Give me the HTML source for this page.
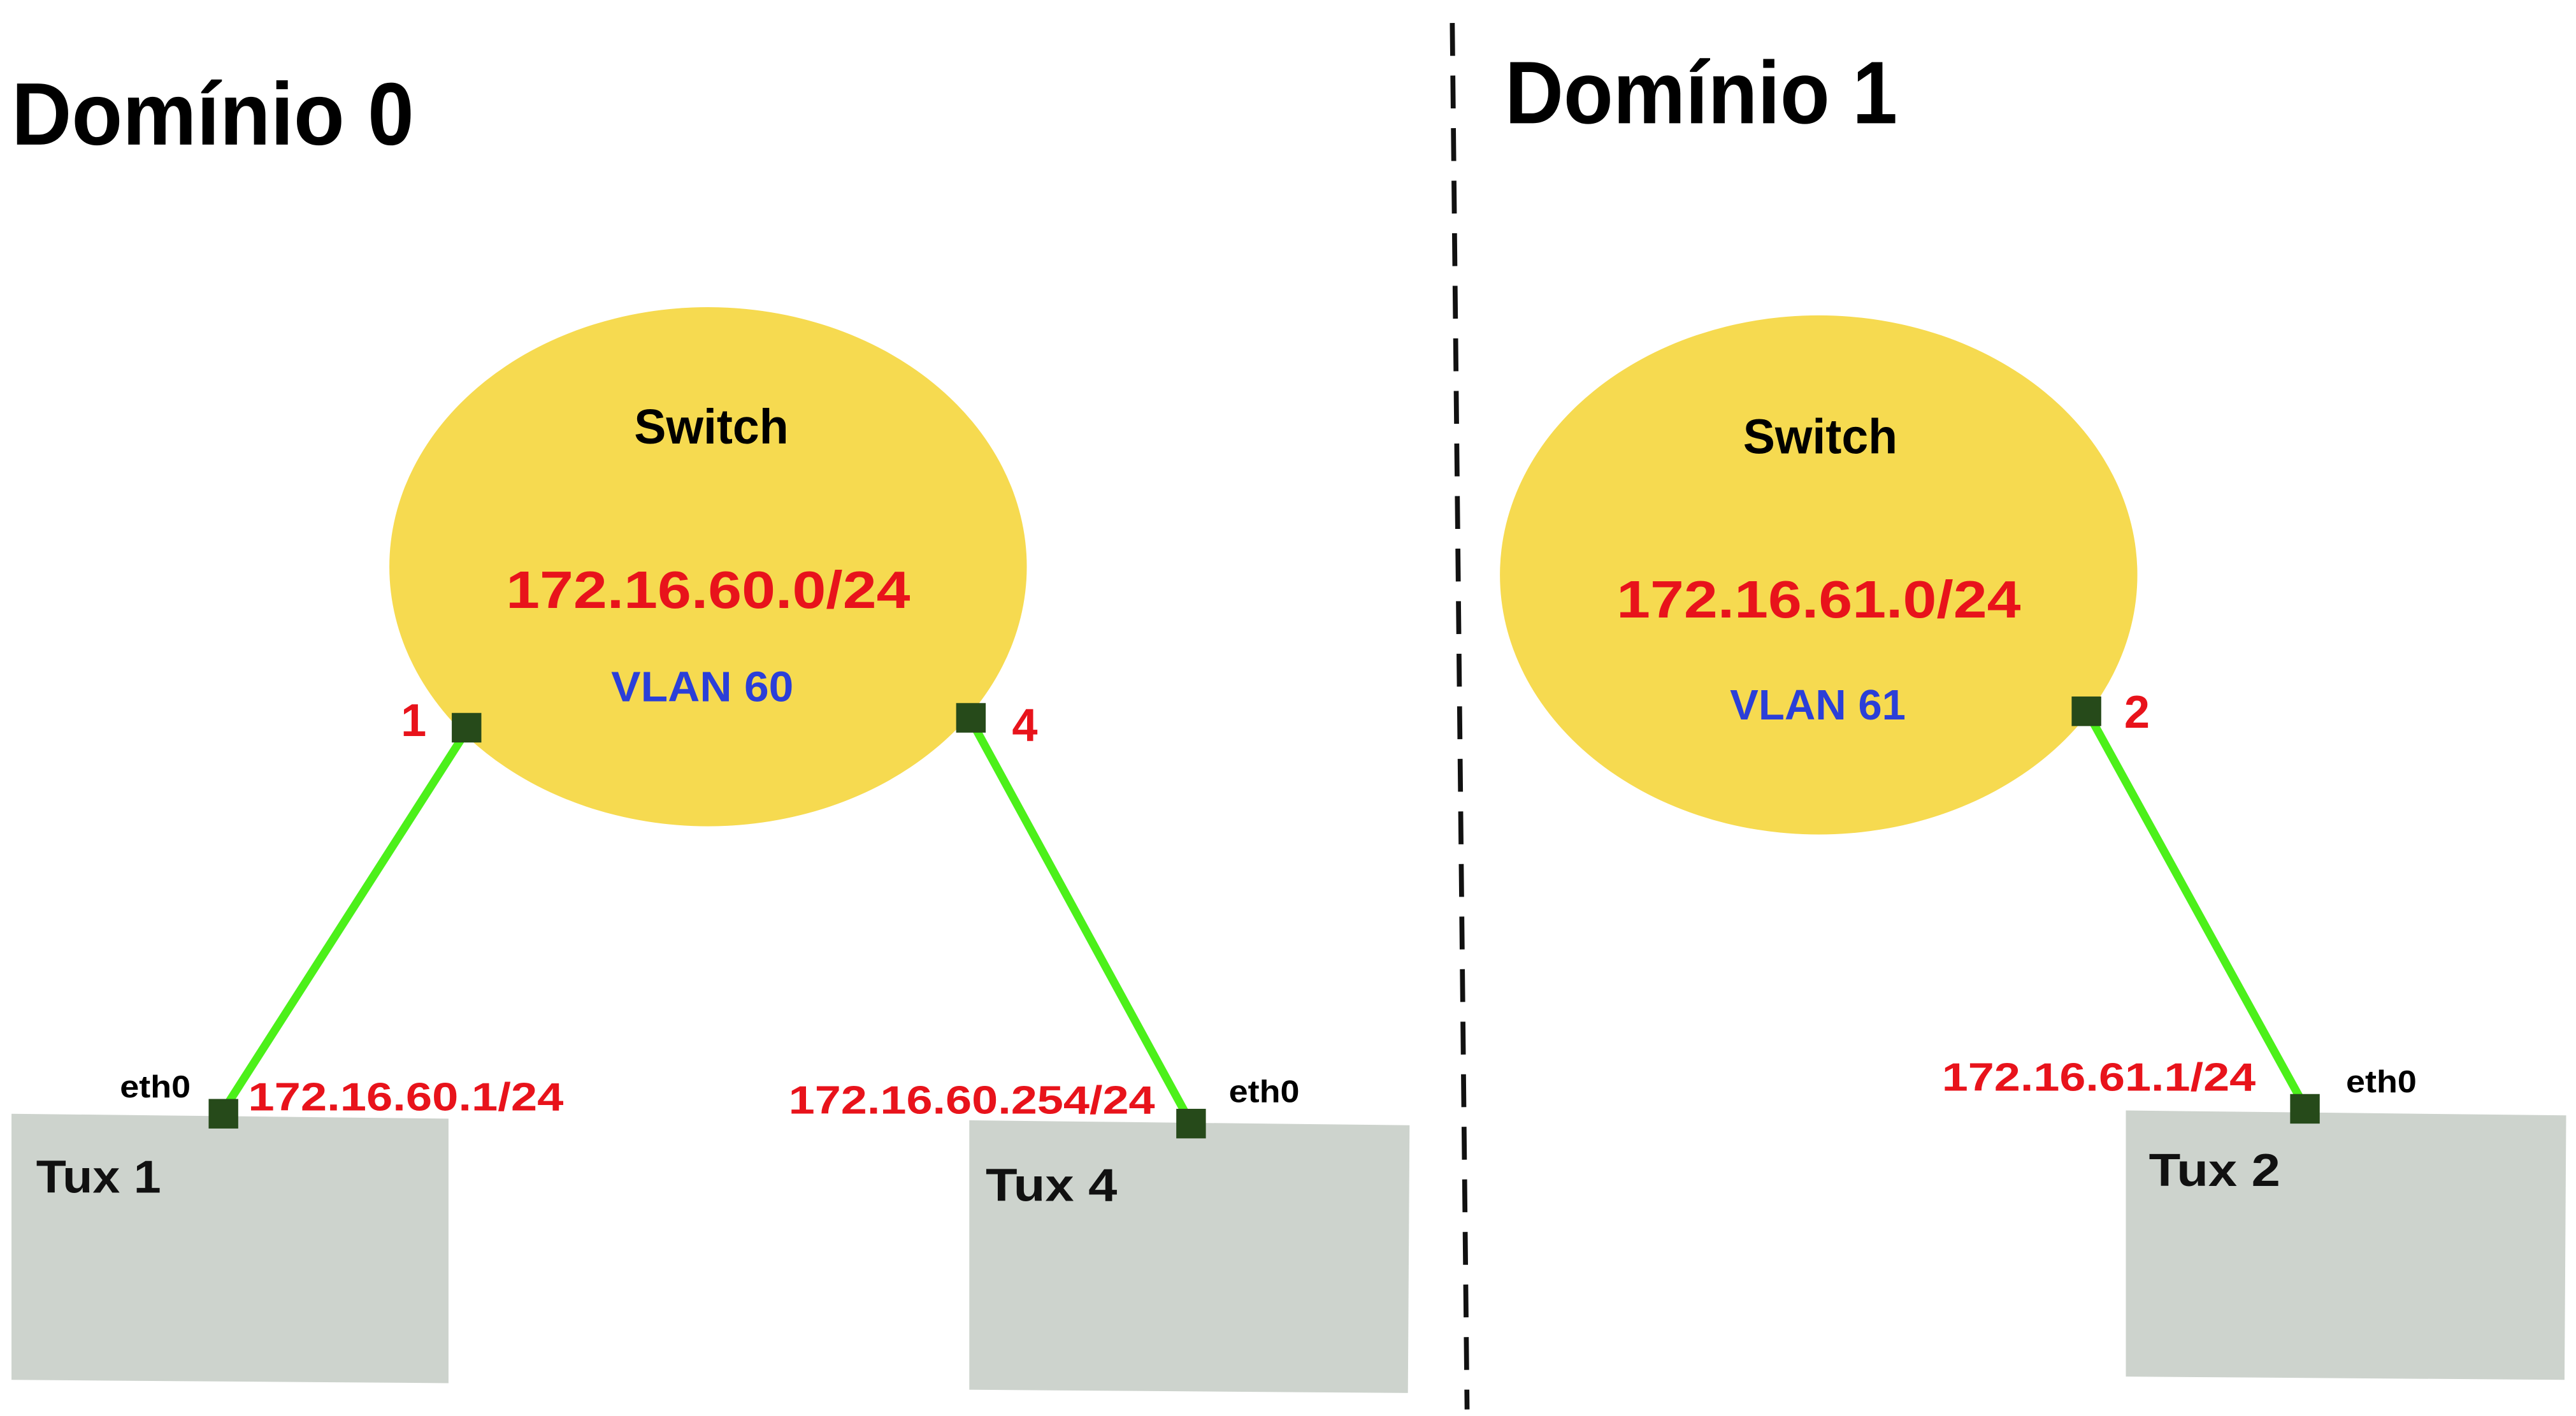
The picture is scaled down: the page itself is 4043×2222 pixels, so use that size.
<!DOCTYPE html>
<html><head><meta charset="utf-8"><style>
html,body{margin:0;padding:0;background:#fff;}
svg{display:block;}
text{font-family:"Liberation Sans",sans-serif;font-weight:bold;}
</style></head><body>
<svg width="4043" height="2222" viewBox="0 0 1568 862" preserveAspectRatio="none" xmlns="http://www.w3.org/2000/svg">
<rect width="1568" height="862" fill="#fff"/>
<line x1="884" y1="14" x2="893" y2="858" stroke="#111" stroke-width="3" stroke-dasharray="20,12"/>
<text x="7" y="88" font-size="54" fill="#000" textLength="245" lengthAdjust="spacingAndGlyphs">Domínio 0</text>
<text x="916" y="75" font-size="54" fill="#000" textLength="239" lengthAdjust="spacingAndGlyphs">Domínio 1</text>

<ellipse cx="431" cy="345" rx="194" ry="158" fill="#f6da50"/>
<ellipse cx="1107" cy="350" rx="194" ry="158" fill="#f6da50"/>

<text x="433" y="270" font-size="30" fill="#000" text-anchor="middle" textLength="94" lengthAdjust="spacingAndGlyphs">Switch</text>
<text x="1108" y="276" font-size="30" fill="#000" text-anchor="middle" textLength="94" lengthAdjust="spacingAndGlyphs">Switch</text>
<text x="308" y="370" font-size="32" fill="#e8131b" textLength="246" lengthAdjust="spacingAndGlyphs">172.16.60.0/24</text>
<text x="984" y="376" font-size="32" fill="#e8131b" textLength="246" lengthAdjust="spacingAndGlyphs">172.16.61.0/24</text>
<text x="372" y="427" font-size="26" fill="#2b3fd8" font-weight="normal" textLength="111" lengthAdjust="spacingAndGlyphs">VLAN 60</text>
<text x="1053" y="438" font-size="26" fill="#2b3fd8" font-weight="normal" textLength="107" lengthAdjust="spacingAndGlyphs">VLAN 61</text>

<polygon points="7,678 273,681 273,842 7,840" fill="#cdd3cd"/>
<polygon points="590,682 858,685 857,848 590,846" fill="#cdd3cd"/>
<polygon points="1294,676 1562,679 1561,840 1294,838" fill="#cdd3cd"/>

<g stroke="#4cf01a" stroke-width="5">
<line x1="282" y1="448" x2="136" y2="676"/>
<line x1="593" y1="442" x2="724" y2="682"/>
<line x1="1272" y1="436" x2="1402" y2="672"/>
</g>
<g fill="#264a1a">
<rect x="275" y="434" width="18" height="18"/>
<rect x="582" y="428" width="18" height="18"/>
<rect x="1261" y="424" width="18" height="18"/>
<rect x="127" y="669" width="18" height="18"/>
<rect x="716" y="675" width="18" height="18"/>
<rect x="1394" y="666" width="18" height="18"/>
</g>
<text x="244" y="448" font-size="28" fill="#e8131b" font-weight="normal">1</text>
<text x="616" y="451" font-size="28" fill="#e8131b" font-weight="normal">4</text>
<text x="1293" y="443" font-size="28" fill="#e8131b" font-weight="normal">2</text>

<text x="22" y="726" font-size="28" fill="#111" textLength="76" lengthAdjust="spacingAndGlyphs">Tux 1</text>
<text x="600" y="731" font-size="28" fill="#111" textLength="80" lengthAdjust="spacingAndGlyphs">Tux 4</text>
<text x="1308" y="722" font-size="28" fill="#111" textLength="80" lengthAdjust="spacingAndGlyphs">Tux 2</text>

<text x="73" y="668" font-size="19" fill="#000" textLength="43" lengthAdjust="spacingAndGlyphs">eth0</text>
<text x="748" y="671" font-size="19" fill="#000" textLength="43" lengthAdjust="spacingAndGlyphs">eth0</text>
<text x="1428" y="665" font-size="19" fill="#000" textLength="43" lengthAdjust="spacingAndGlyphs">eth0</text>

<text x="151" y="676" font-size="24" fill="#e8131b" font-weight="normal" textLength="192" lengthAdjust="spacingAndGlyphs">172.16.60.1/24</text>
<text x="480" y="678" font-size="24" fill="#e8131b" font-weight="normal" textLength="223" lengthAdjust="spacingAndGlyphs">172.16.60.254/24</text>
<text x="1182" y="664" font-size="24" fill="#e8131b" font-weight="normal" textLength="191" lengthAdjust="spacingAndGlyphs">172.16.61.1/24</text>
</svg>
</body></html>
